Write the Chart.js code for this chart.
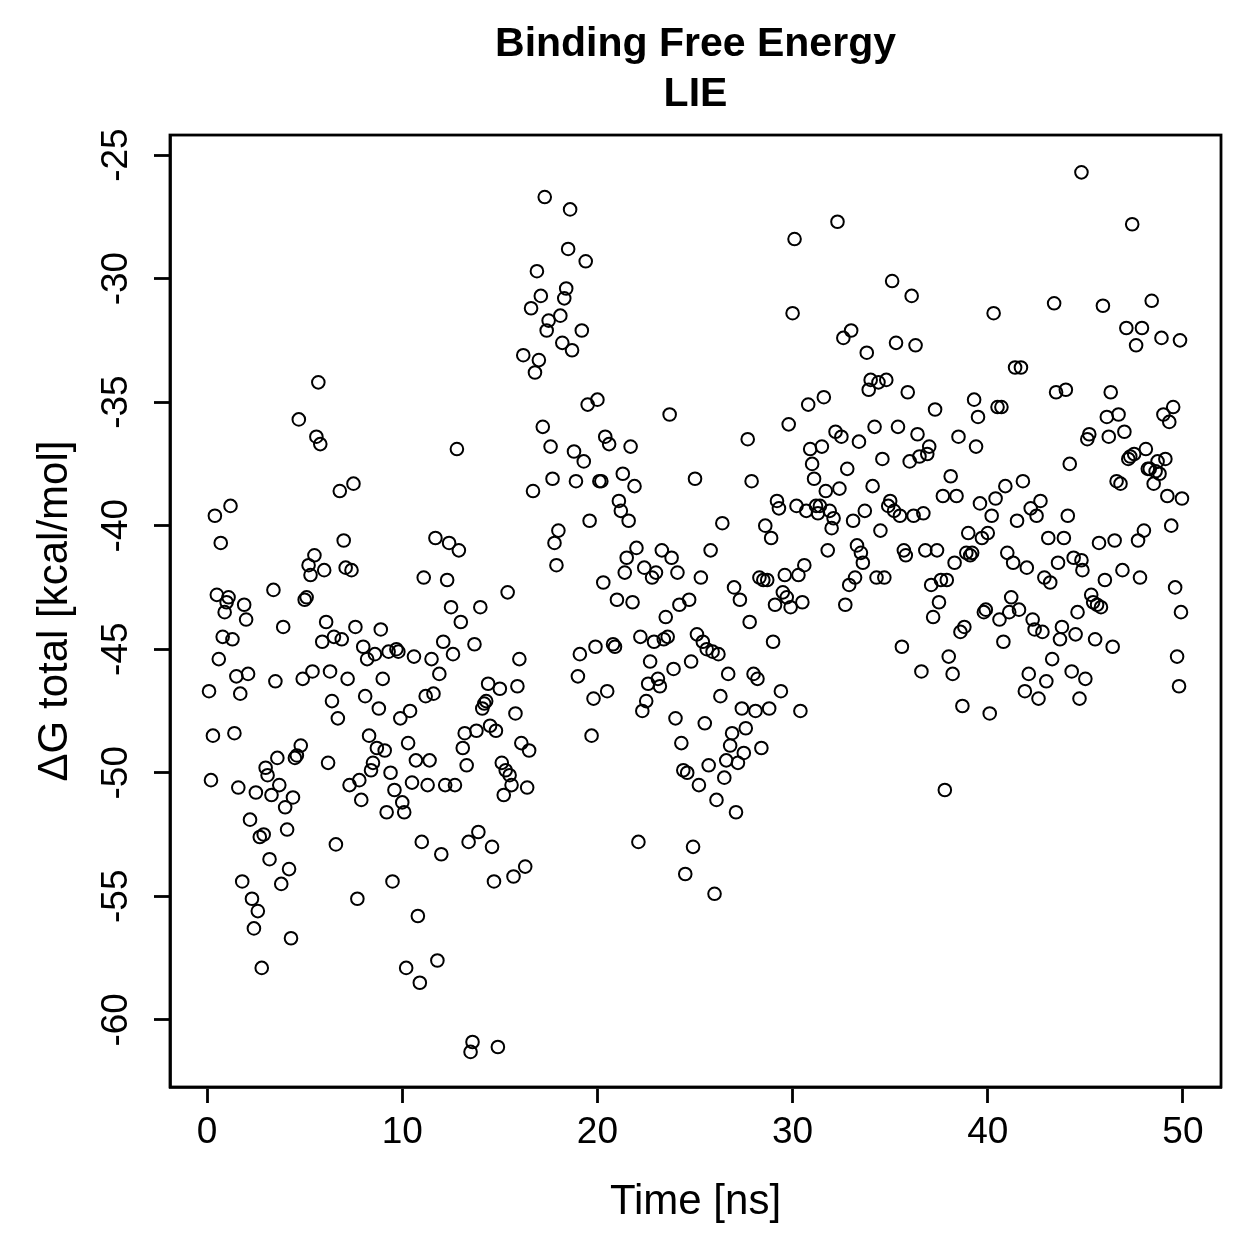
<!DOCTYPE html>
<html>
<head>
<meta charset="utf-8">
<script src="https://cdn.jsdelivr.net/npm/chart.js@4.4.1/dist/chart.umd.min.js"></script>
<style>
html,body{margin:0;padding:0;background:#fff;}
canvas{display:block;}
</style>
</head>
<body>
<canvas id="c" width="1259" height="1259"></canvas>
<script>
const chartTitle = ['Binding Free Energy', 'LIE'];
const xLabel = 'Time [ns]';
const yLabel = 'ΔG total [kcal/mol]';
const xTicks = [0, 10, 20, 30, 40, 50];
const yTicks = [-60, -55, -50, -45, -40, -35, -30, -25];

const time = [
0.1,0.2,0.3,0.4,0.5,0.6,0.7,0.8,0.9,1.0,
1.1,1.2,1.3,1.4,1.5,1.6,1.7,1.8,1.9,2.0,
2.1,2.2,2.3,2.4,2.5,2.6,2.7,2.8,2.9,3.0,
3.1,3.2,3.3,3.4,3.5,3.6,3.7,3.8,3.9,4.0,
4.1,4.2,4.3,4.4,4.5,4.6,4.7,4.8,4.9,5.0,
5.1,5.2,5.3,5.4,5.5,5.6,5.7,5.8,5.9,6.0,
6.1,6.2,6.3,6.4,6.5,6.6,6.7,6.8,6.9,7.0,
7.1,7.2,7.3,7.4,7.5,7.6,7.7,7.8,7.9,8.0,
8.1,8.2,8.3,8.4,8.5,8.6,8.7,8.8,8.9,9.0,
9.1,9.2,9.3,9.4,9.5,9.6,9.7,9.8,9.9,10.0,
10.1,10.2,10.3,10.4,10.5,10.6,10.7,10.8,10.9,11.0,
11.1,11.2,11.3,11.4,11.5,11.6,11.7,11.8,11.9,12.0,
12.1,12.2,12.3,12.4,12.5,12.6,12.7,12.8,12.9,13.0,
13.1,13.2,13.3,13.4,13.5,13.6,13.7,13.8,13.9,14.0,
14.1,14.2,14.3,14.4,14.5,14.6,14.7,14.8,14.9,15.0,
15.1,15.2,15.3,15.4,15.5,15.6,15.7,15.8,15.9,16.0,
16.1,16.2,16.3,16.4,16.5,16.6,16.7,16.8,16.9,17.0,
17.1,17.2,17.3,17.4,17.5,17.6,17.7,17.8,17.9,18.0,
18.1,18.2,18.3,18.4,18.5,18.6,18.7,18.8,18.9,19.0,
19.1,19.2,19.3,19.4,19.5,19.6,19.7,19.8,19.9,20.0,
20.1,20.2,20.3,20.4,20.5,20.6,
20.8,20.9,21.0,21.1,21.2,21.3,21.4,21.5,21.6,21.7,
21.8,21.9,22.0,22.1,22.2,22.3,22.4,22.5,22.6,22.7,
22.8,22.9,23.0,23.1,23.2,23.3,23.4,23.5,23.6,23.7,
23.8,23.9,24.0,24.1,24.2,24.3,24.4,24.5,24.6,24.7,
24.8,24.9,25.0,25.1,25.2,25.3,25.4,25.5,25.6,25.7,
25.8,25.9,26.0,26.1,26.2,26.3,26.4,26.5,26.6,26.7,
26.8,26.9,27.0,27.1,27.2,27.3,27.4,27.5,27.6,27.7,
27.8,27.9,28.0,28.1,28.2,28.3,28.4,28.5,28.6,28.7,
28.8,28.9,29.0,29.1,29.2,29.3,29.4,29.5,29.6,29.7,
29.8,29.9,30.0,30.1,30.2,30.3,30.4,30.5,30.6,30.7,
30.8,30.9,31.0,31.1,31.2,31.3,31.4,31.5,31.6,31.7,
31.8,31.9,32.0,32.1,32.2,32.3,32.4,32.5,32.6,32.7,
32.8,32.9,33.0,33.1,33.2,33.3,33.4,33.5,33.6,33.7,
33.8,33.9,34.0,34.1,34.2,34.3,34.4,34.5,34.6,34.7,
34.8,34.9,35.0,35.1,35.2,35.3,35.4,35.5,35.6,35.7,
35.8,35.9,36.0,36.1,36.2,36.3,36.4,36.5,36.6,36.7,
36.8,36.9,37.0,37.1,37.2,37.3,37.4,37.5,37.6,37.7,
37.8,37.9,38.0,38.1,38.2,38.3,38.4,38.5,38.6,38.7,
38.8,38.9,39.0,39.1,39.2,39.3,39.4,39.5,39.6,39.7,
39.8,39.9,40.0,40.1,40.2,40.3,40.4,40.5,40.6,40.7,
40.8,40.9,41.0,41.1,41.2,41.3,41.4,41.5,41.6,41.7,
41.8,41.9,42.0,42.1,42.2,42.3,42.4,42.5,42.6,42.7,
42.8,42.9,43.0,43.1,43.2,43.3,43.4,43.5,43.6,43.7,
43.8,43.9,44.0,44.1,44.2,44.3,44.4,44.5,44.6,44.7,
44.8,44.85,44.8,45.0,45.1,45.2,45.3,45.4,45.5,45.6,
45.7,45.8,45.9,46.0,46.1,46.2,46.3,46.4,46.5,46.6,
46.7,46.8,46.9,47.0,47.1,47.2,47.3,47.4,47.5,47.6,
47.7,47.8,47.9,48.0,48.1,48.2,48.3,48.4,48.5,48.6,
48.7,48.8,48.9,49.0,49.1,49.2,49.3,49.4,49.5,49.6,
49.7,49.8,49.85,49.9,49.95,50.0
];

const dG = [
-46.7,-50.3,-48.5,-39.6,-42.8,-45.4,-40.7,-44.5,-43.5,-43.1,
-42.9,-39.2,-44.6,-48.4,-46.1,-50.6,-46.8,-54.4,-43.2,-43.8,
-46.0,-51.9,-55.1,-56.3,-50.8,-55.6,-52.6,-57.9,-52.5,-49.8,
-50.1,-53.5,-50.9,-42.6,-46.3,-49.4,-50.5,-54.5,-44.1,-51.4,
-52.3,-53.9,-56.7,-51.0,-49.4,-49.3,-35.7,-48.9,-46.2,-43.0,
-42.9,-41.6,-42.0,-45.9,-41.2,-36.4,-34.2,-36.7,-44.7,-41.8,
-43.9,-49.6,-45.9,-47.1,-44.5,-52.9,-47.8,-38.6,-44.6,-40.6,
-41.7,-46.2,-50.5,-41.8,-38.3,-44.1,-55.1,-50.3,-51.1,-44.9,
-46.9,-45.4,-48.5,-49.9,-49.6,-45.2,-49.0,-47.4,-44.2,-46.2,
-49.1,-51.6,-45.1,-50.0,-54.4,-50.7,-45.0,-45.1,-47.8,-51.2,
-51.6,-57.9,-48.8,-47.5,-50.4,-45.3,-49.5,-55.8,-58.5,-52.8,
-42.1,-46.9,-50.5,-49.5,-45.4,-46.8,-40.5,-57.6,-46.0,-53.3,
-44.7,-50.5,-42.2,-40.7,-43.3,-45.2,-50.5,-36.9,-41.0,-43.9,
-49.0,-48.4,-49.7,-52.8,-61.3,-60.9,-44.8,-48.3,-52.4,-43.3,
-47.4,-47.2,-47.1,-46.4,-48.1,-53.0,-54.4,-48.3,-61.1,-46.6,
-49.6,-50.9,-49.9,-42.7,-50.1,-50.5,-54.2,-47.6,-46.5,-45.4,
-48.8,-33.1,-53.8,-50.6,-49.1,-31.2,-38.6,-33.8,-29.7,-33.3,
-30.7,-36.0,-26.7,-32.1,-31.7,-36.8,-38.1,-40.7,-41.6,-40.2,
-31.5,-32.6,-30.8,-30.4,-28.8,-27.2,-32.9,-37.0,-38.2,-46.1,
-45.2,-32.1,-37.4,-29.3,-35.1,-39.8,-48.5,-47.0,-44.9,-34.9,
-38.2,-38.2,-42.3,-36.4,-46.7,-36.7,
-44.8,-44.9,-43.0,-39.0,-39.4,-37.9,-41.9,-41.3,-39.8,-36.8,
-43.1,-38.4,-40.9,-52.8,-44.5,-47.5,-41.7,-47.1,-46.4,-45.5,
-42.1,-44.7,-41.9,-46.2,-46.5,-41.0,-44.6,-43.7,-44.5,-35.5,
-41.3,-45.8,-47.8,-41.9,-43.2,-48.8,-49.9,-54.1,-50.0,-43.0,
-45.5,-53.0,-38.1,-44.4,-50.5,-42.1,-44.7,-48.0,-45.0,-49.7,
-41.0,-45.1,-54.9,-51.1,-45.2,-46.9,-39.9,-50.2,-49.5,-46.0,
-48.9,-48.4,-42.5,-51.6,-49.6,-43.0,-47.4,-49.2,-48.2,-36.5,
-43.9,-38.2,-46.0,-47.5,-46.2,-42.1,-49.0,-42.2,-40.0,-42.2,
-47.4,-40.5,-44.7,-43.2,-39.0,-39.3,-46.7,-42.7,-42.0,-42.9,
-35.9,-43.3,-31.4,-28.4,-39.2,-42.0,-47.5,-43.1,-41.6,-39.4,
-35.1,-36.9,-37.5,-38.1,-39.2,-39.5,-39.2,-36.8,-34.8,-38.6,
-41.0,-39.4,-40.1,-39.7,-36.2,-27.7,-38.5,-36.4,-32.4,-43.2,
-37.7,-42.4,-32.1,-39.8,-42.1,-40.8,-36.6,-41.1,-41.5,-39.4,
-33.0,-34.5,-34.1,-38.4,-36.0,-42.1,-34.2,-40.2,-37.3,-42.1,
-34.1,-39.2,-39.0,-30.1,-39.4,-32.6,-36.0,-39.6,-44.9,-41.0,
-41.2,-34.6,-37.4,-30.7,-39.6,-32.7,-36.3,-37.2,-45.9,-39.5,
-41.0,-37.1,-36.8,-42.4,-43.7,-35.3,-41.0,-43.1,-42.2,-38.8,
-50.7,-42.2,-45.3,-38.0,-46.0,-41.5,-38.8,-36.4,-44.3,-47.3,
-44.1,-41.1,-40.3,-41.2,-41.1,-34.9,-36.8,-35.6,-39.1,-40.5,
-43.5,-43.4,-40.3,-47.6,-39.6,-31.4,-38.9,-35.2,-43.8,-35.2,
-44.7,-38.4,-41.1,-43.5,-42.9,-41.5,-33.6,-39.8,-43.4,-33.6,
-38.2,-46.7,-41.7,-46.0,-39.3,-43.8,-44.2,-39.6,-47.0,-39.0,
-44.3,-42.1,-46.3,-40.5,-42.3,-45.4,-31.0,-34.6,-41.5,-44.6,
-44.1,-40.5,-34.5,-39.6,-37.5,-45.9,-41.3,-44.4,-43.5,-47.0,
-41.4,-41.8,-25.7,-46.2,-36.5,-36.3,-42.8,-43.1,-44.6,-43.2,
-40.7,-43.3,-31.1,-42.2,-35.6,-36.4,-34.6,-44.9,-40.6,-38.2,
-35.5,-38.3,-41.8,-36.2,-32.0,-37.3,-37.2,-27.8,-37.1,-32.7,
-40.6,-42.1,-32.0,-40.2,-36.9,-37.7,-37.7,-30.9,-38.3,-37.8,
-37.4,-37.9,-32.4,-35.5,-37.3,-38.8,-35.8,-40.0,-35.2,-42.5,
-45.3,-46.5,-32.5,-43.5,-38.9
];

const points = time.map((t, i) => ({x: t, y: dG[i]}));

const FONT = '"Liberation Sans", Arial, Helvetica, sans-serif';

const boxPlugin = {
  id: 'box',
  afterDatasetsDraw(chart) {
    const {ctx, chartArea: a} = chart;
    ctx.save();
    ctx.strokeStyle = '#000';
    ctx.lineWidth = 2.8;
    ctx.strokeRect(a.left, a.top, a.right - a.left, a.bottom - a.top);
    ctx.restore();
  }
};

new Chart(document.getElementById('c'), {
  type: 'scatter',
  data: {
    datasets: [{
      data: points,
      pointStyle: 'circle',
      pointRadius: 6.3,
      pointHoverRadius: 6.3,
      borderColor: '#000',
      backgroundColor: 'rgba(0,0,0,0)',
      borderWidth: 2,
      pointBorderWidth: 2
    }]
  },
  options: {
    responsive: false,
    animation: false,
    devicePixelRatio: 1,
    layout: {padding: {left: 0, right: 38, top: 0, bottom: 0}},
    plugins: {
      legend: {display: false},
      tooltip: {enabled: false},
      title: {
        display: true,
        text: chartTitle,
        fullSize: false,
        color: '#000',
        font: {family: FONT, size: 41, weight: 'bold', lineHeight: 1.22},
        padding: {top: 20, bottom: 15}
      }
    },
    scales: {
      x: {
        type: 'linear',
        min: -1.9,
        max: 51.95,
        afterFit: s => { s.height = 172; },
        afterBuildTicks: s => { s.ticks = xTicks.map(v => ({value: v})); },
        grid: {drawOnChartArea: false, drawTicks: true, tickLength: 16, tickWidth: 2.8, tickColor: '#000'},
        border: {display: true, color: '#000', width: 2.8},
        ticks: {color: '#000', font: {family: FONT, size: 37}, padding: 8, maxRotation: 0, minRotation: 0,
          callback: v => String(v)},
        title: {display: true, text: xLabel, color: '#000', font: {family: FONT, size: 42, lineHeight: 1.2}, padding: {top: 0, bottom: 31}}
      },
      y: {
        type: 'linear',
        min: -62.72,
        max: -24.19,
        afterFit: s => { s.width = 170; },
        afterBuildTicks: s => { s.ticks = yTicks.map(v => ({value: v})); },
        grid: {drawOnChartArea: false, drawTicks: true, tickLength: 16, tickWidth: 2.8, tickColor: '#000'},
        border: {display: true, color: '#000', width: 2.8},
        ticks: {color: '#000', font: {family: FONT, size: 37}, padding: 10, minRotation: 90, maxRotation: 90,
          crossAlign: 'center', callback: v => String(v)},
        title: {display: true, text: yLabel, color: '#000', font: {family: FONT, size: 42, lineHeight: 1.2}, padding: {top: 30, bottom: 0}}
      }
    }
  },
  plugins: [boxPlugin]
});
</script>
</body>
</html>
